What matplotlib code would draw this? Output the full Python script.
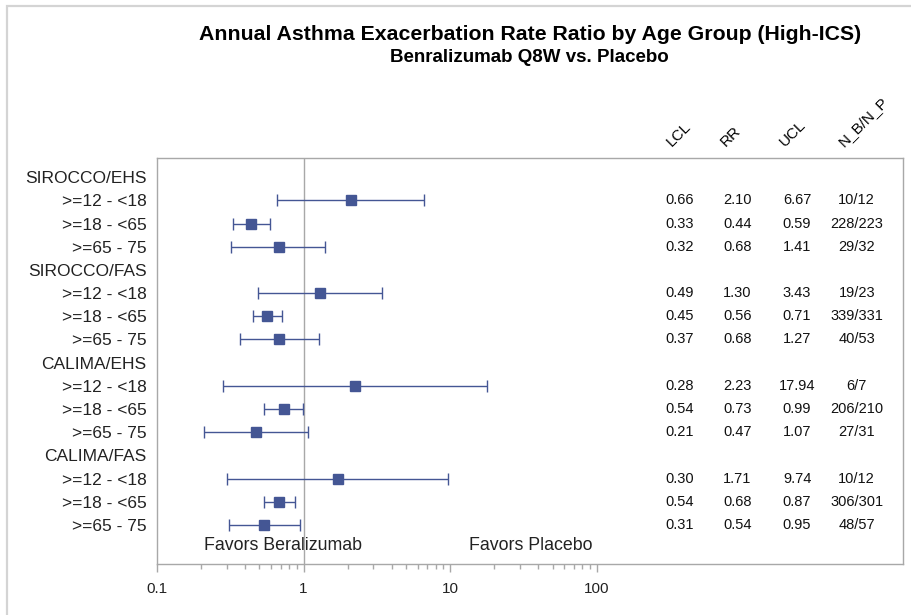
import matplotlib
matplotlib.use("Agg")
import matplotlib.pyplot as plt
import matplotlib.transforms as mtransforms
from matplotlib.patches import Rectangle
from matplotlib.ticker import FixedLocator, NullFormatter

plt.rcParams["font.family"] = ["Liberation Sans", "DejaVu Sans"]

# rows as they appear top to bottom (group headers have no estimate)
row_labels = [
    "SIROCCO/EHS", ">=12 - <18", ">=18 - <65", ">=65 - 75",
    "SIROCCO/FAS", ">=12 - <18", ">=18 - <65", ">=65 - 75",
    "CALIMA/EHS", ">=12 - <18", ">=18 - <65", ">=65 - 75",
    "CALIMA/FAS", ">=12 - <18", ">=18 - <65", ">=65 - 75",
]
lcl = [None, 0.66, 0.33, 0.32, None, 0.49, 0.45, 0.37,
       None, 0.28, 0.54, 0.21, None, 0.30, 0.54, 0.31]
rr = [None, 2.10, 0.44, 0.68, None, 1.30, 0.56, 0.68,
      None, 2.23, 0.73, 0.47, None, 1.71, 0.68, 0.54]
ucl = [None, 6.67, 0.59, 1.41, None, 3.43, 0.71, 1.27,
       None, 17.94, 0.99, 1.07, None, 9.74, 0.87, 0.95]
n_bp = [None, "10/12", "228/223", "29/32", None, "19/23", "339/331", "40/53",
        None, "6/7", "206/210", "27/31", None, "10/12", "306/301", "48/57"]

col_headers = ["LCL", "RR", "UCL", "N_B/N_P"]
x_ticks = [0.1, 1, 10, 100]

BLUE = "#445694"
GRAY = "#A8A8A8"

fig = plt.figure(figsize=(9.12, 6.15), dpi=100)
ax = fig.add_axes([157 / 912, 1 - 564.3 / 615, (903 - 157) / 912, (564.3 - 158) / 615])

# light outer border of the graph area
fig.patches.append(Rectangle((7 / 912, -0.1), 1.2, 1 - 6 / 615 + 0.1,
                             transform=fig.transFigure, fill=False,
                             edgecolor="#D4D4D4", linewidth=1.6))

ax.set_xscale("log")
ax.set_xlim(0.1, 10 ** 4.09)
ax.set_ylim(16.7, -0.83)

ax.axvline(1, color=GRAY, linewidth=1.0, zorder=1)

for i in range(len(row_labels)):
    if rr[i] is None:
        continue
    ax.errorbar(rr[i], i, xerr=[[rr[i] - lcl[i]], [ucl[i] - rr[i]]],
                fmt="s", color=BLUE, ecolor=BLUE, markersize=7.2,
                elinewidth=1.0, capsize=4.2, capthick=1.0, zorder=3)

ax.set_yticks(range(len(row_labels)))
ax.set_yticklabels(row_labels, fontsize=12.5, color="#222222")
ax.tick_params(axis="y", length=0, pad=7.5)

ax.xaxis.set_major_locator(FixedLocator(x_ticks))
ax.set_xticklabels(["0.1", "1", "10", "100"])
minors = [m * d for d in (0.1, 1, 10) for m in range(2, 10)]
ax.xaxis.set_minor_locator(FixedLocator(minors))
ax.xaxis.set_minor_formatter(NullFormatter())
ax.tick_params(axis="x", which="major", length=6, width=1, color=GRAY,
               labelsize=11, pad=7, labelcolor="#222222")
ax.tick_params(axis="x", which="minor", length=3.5, width=1, color=GRAY)

for s in ax.spines.values():
    s.set_color(GRAY)
    s.set_linewidth(1.0)

# statistics columns on the right
trans = mtransforms.blended_transform_factory(ax.transAxes, ax.transData)
col_x = [0.701, 0.778, 0.858, 0.938]
for i in range(len(row_labels)):
    if rr[i] is None:
        continue
    vals = [f"{lcl[i]:.2f}", f"{rr[i]:.2f}", f"{ucl[i]:.2f}", n_bp[i]]
    for x, v in zip(col_x, vals):
        ax.text(x, i, v, transform=trans, ha="center", va="center",
                fontsize=10.5, color="#111111")

head_x = [0.693, 0.765, 0.845, 0.923]
for x, h in zip(head_x, col_headers):
    ax.text(x, 1.022, h, transform=ax.transAxes, rotation=45,
            rotation_mode="anchor", ha="left", va="bottom", fontsize=11)

ax.text(0.169, 15.9, "Favors Beralizumab", transform=trans, ha="center",
        va="center", fontsize=12.8, color="#222222")
ax.text(0.501, 15.9, "Favors Placebo", transform=trans, ha="center",
        va="center", fontsize=12.8, color="#222222")

fig.text(0.581, 1 - 35 / 615, "Annual Asthma Exacerbation Rate Ratio by Age Group (High-ICS)",
         ha="center", va="center", fontsize=15.3, fontweight="bold")
fig.text(0.581, 1 - 58 / 615, "Benralizumab Q8W vs. Placebo",
         ha="center", va="center", fontsize=13.5, fontweight="bold")

fig.savefig("out.png", dpi=100)
